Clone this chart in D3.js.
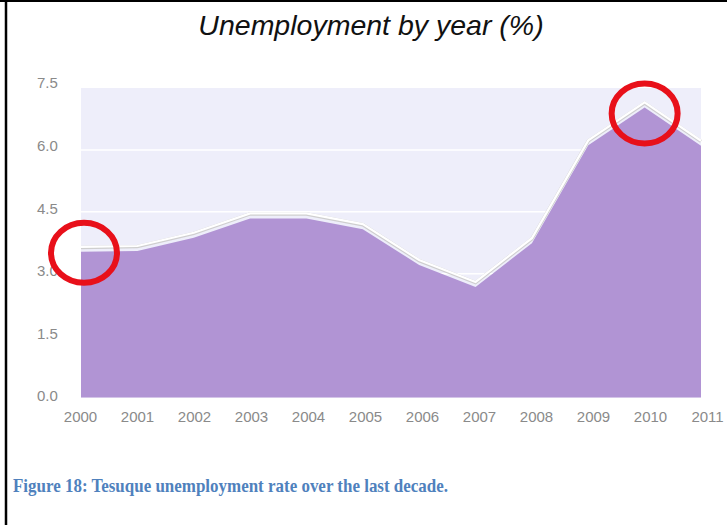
<!DOCTYPE html>
<html>
<head>
<meta charset="utf-8">
<script src="https://cdn.jsdelivr.net/npm/d3@7"></script>
<style>
  body { margin: 0; background: #fff; }
  svg { display: block; }
</style>
</head>
<body>
<svg></svg>
<script>
const years = ['2000', '2001', '2002', '2003', '2004', '2005', '2006', '2007', '2008', '2009', '2010', '2011'];
const rates = [3.53, 3.55, 3.87, 4.34, 4.34, 4.08, 3.21, 2.68, 3.74, 6.11, 7.03, 6.10];
const yTicks = [0, 1.5, 3.0, 4.5, 6.0, 7.5];
const circled = ['2000', '2010'];

const svgWidth = 727;
const svgHeight = 525;

const svg = d3.select('svg')
    .attr('width', svgWidth)
    .attr('height', svgHeight);

// frame lines (left + top only, like the scanned page)
svg.append('line').attr('x1', 0).attr('x2', svgWidth).attr('y1', 1).attr('y2', 1)
    .attr('stroke', '#000').attr('stroke-width', 2);
svg.append('line').attr('x1', 6).attr('x2', 6).attr('y1', 0).attr('y2', svgHeight)
    .attr('stroke', '#000').attr('stroke-width', 2.5);

const xScale = d3.scalePoint().domain(years).range([81, 701]);
const yScale = d3.scaleLinear().domain([0, 7.5]).range([397.5, 88]);

// label scales are a touch wider than the plot in the original
const xLabelScale = d3.scalePoint().domain(years).range([80, 707]);
const yLabelScale = d3.scaleLinear().domain([0, 7.5]).range([396, 83]);

svg.append('text')
    .attr('x', 371)
    .attr('y', 35)
    .attr('text-anchor', 'middle')
    .attr('font-family', 'Liberation Sans, Arial, sans-serif')
    .attr('font-style', 'italic')
    .attr('font-size', '28.5px')
    .attr('fill', '#111')
    .text('Unemployment by year (%)');

// plot background
svg.append('rect')
    .attr('x', xScale('2000'))
    .attr('y', yScale(7.5))
    .attr('width', xScale('2011') - xScale('2000'))
    .attr('height', yScale(0) - yScale(7.5))
    .attr('fill', '#eeeefa');

svg.selectAll('.grid')
    .data(yTicks.filter(d => d > 0 && d < 7.5))
    .enter()
    .append('line')
    .attr('x1', xScale('2000'))
    .attr('x2', xScale('2011'))
    .attr('y1', d => yScale(d))
    .attr('y2', d => yScale(d))
    .attr('stroke', '#fff')
    .attr('stroke-width', 1.5);

const area = d3.area()
    .x((d, i) => xScale(years[i]))
    .y0(yScale(0))
    .y1(d => yScale(d));

svg.append('path')
    .datum(rates)
    .attr('d', area)
    .attr('fill', '#b194d4');

const line = d3.line()
    .x((d, i) => xScale(years[i]))
    .y(d => yScale(d));

const lineG = svg.append('g').attr('transform', 'translate(0,-5)');
lineG.append('path')
    .datum(rates)
    .attr('d', line)
    .attr('transform', 'translate(0,0.6)')
    .attr('fill', 'none')
    .attr('stroke', '#cfcfcf')
    .attr('stroke-width', 3.4);
lineG.append('path')
    .datum(rates)
    .attr('d', line)
    .attr('fill', 'none')
    .attr('stroke', '#fff')
    .attr('stroke-width', 2.2);

// axes
const yAxis = svg.append('g')
    .attr('transform', 'translate(58,0)')
    .call(d3.axisLeft(yLabelScale).tickValues(yTicks).tickFormat(d3.format('.1f')).tickSize(0));
yAxis.select('.domain').remove();
yAxis.selectAll('text')
    .attr('x', -21)
    .attr('text-anchor', 'start')
    .attr('font-family', 'Liberation Sans, Arial, sans-serif')
    .attr('font-size', '15px')
    .attr('fill', '#8a8a8a');

const xAxis = svg.append('g')
    .attr('transform', 'translate(0,408)')
    .call(d3.axisBottom(xLabelScale).tickSize(0));
xAxis.select('.domain').remove();
xAxis.selectAll('text')
    .attr('font-family', 'Liberation Sans, Arial, sans-serif')
    .attr('font-size', '15px')
    .attr('fill', '#8a8a8a');

// red annotation circles
const circleData = circled.map(y => ({ year: y, value: rates[years.indexOf(y)] }));
svg.selectAll('.mark')
    .data(circleData)
    .enter()
    .append('ellipse')
    .attr('cx', d => xScale(d.year) + (d.year === '2000' ? 3 : 0))
    .attr('cy', d => yScale(d.value) + (d.year === '2000' ? 1 : 6))
    .attr('rx', 33)
    .attr('ry', 30)
    .attr('fill', 'none')
    .attr('stroke', '#e8101a')
    .attr('stroke-width', 6);

svg.append('text')
    .attr('x', 13)
    .attr('y', 492)
    .attr('font-family', 'Liberation Serif, Times New Roman, serif')
    .attr('font-weight', 'bold')
    .attr('font-size', '19.5px')
    .attr('textLength', 435)
    .attr('lengthAdjust', 'spacingAndGlyphs')
    .attr('fill', '#4f81bd')
    .text('Figure 18: Tesuque unemployment rate over the last decade.')
</script>
</body>
</html>
